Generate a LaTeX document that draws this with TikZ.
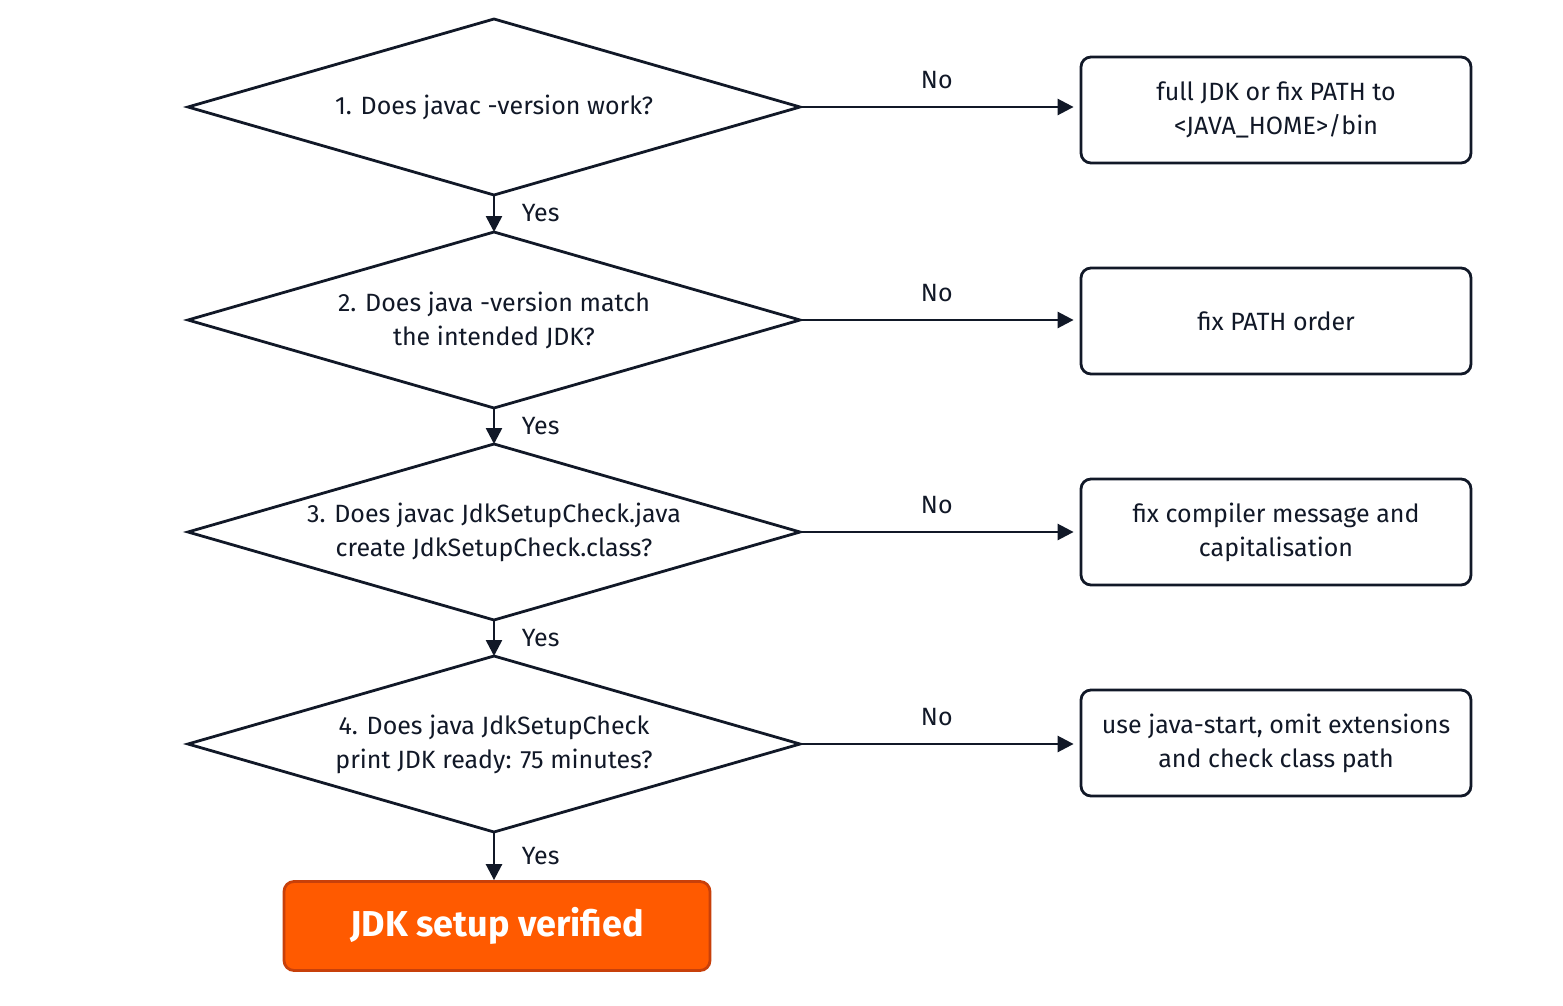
\documentclass[tikz,border=0pt]{standalone}
\usepackage{fontspec}
\setmainfont{Fira Sans}
\usetikzlibrary{arrows.meta}
\definecolor{ink}{HTML}{111827}
\definecolor{orng}{HTML}{FF5A00}
\definecolor{orngb}{HTML}{C8400A}
\tikzset{
 dtext/.style={align=center,font=\fontsize{12.5}{17}\selectfont,text=ink},
 dline/.style={draw=ink,line width=1.4pt,line join=miter},
 fixbox/.style={draw=ink,line width=1.4pt,rounded corners=5pt,minimum width=195pt,minimum height=53pt,align=center,font=\fontsize{12.5}{17}\selectfont,text=ink},
 arr/.style={draw=ink,line width=1.3pt,-{Triangle[length=8pt,width=8pt]}},
 lbl/.style={font=\fontsize{12.5}{15}\selectfont,text=ink}
}
\begin{document}
\begin{tikzpicture}[x=0.5pt,y=-0.5pt]
\useasboundingbox (0,0) rectangle (1563,1006);
\foreach \i/\cy in {1/107,2/320,3/532,4/744}{
 \coordinate (t\i) at (494,\cy-88);
 \coordinate (s\i) at (494,\cy+88);
 \coordinate (w\i) at (188,\cy);
 \coordinate (e\i) at (800,\cy);
 \draw[dline] (t\i) -- (e\i) -- (s\i) -- (w\i) -- cycle;
}
\node[dtext] (d1) at (494,107) {1. Does javac -version work?};
\node[dtext] (d2) at (494,320) {2. Does java -version match\\the intended JDK?};
\node[dtext] (d3) at (494,532) {3. Does javac JdkSetupCheck.java\\create JdkSetupCheck.class?};
\node[dtext] (d4) at (494,744) {4. Does java JdkSetupCheck\\print JDK ready: 75 minutes?};
\node[fixbox] (b1) at (1276,110) {full JDK or fix PATH to\\<JAVA\_HOME>/bin};
\node[fixbox] (b2) at (1276,321) {fix PATH order};
\node[fixbox] (b3) at (1276,532) {fix compiler message and\\capitalisation};
\node[fixbox] (b4) at (1276,743) {use java-start, omit extensions\\and check class path};
\node[draw=orngb,fill=orng,line width=1.4pt,rounded corners=5pt,minimum width=213pt,minimum height=44.5pt,text=white,font=\fontsize{18}{20}\selectfont\bfseries] (ok) at (497,926) {JDK setup verified};
\foreach \i in {1,2,3,4}{
 \draw[arr] (e\i) -- ([xshift=-3pt]e\i -| b\i.west) node[lbl,midway,above=5pt] {No};
}
\draw[arr] (s1) -- (t2) node[lbl,midway,right=10pt] {Yes};
\draw[arr] (s2) -- (t3) node[lbl,midway,right=10pt] {Yes};
\draw[arr] (s3) -- (t4) node[lbl,midway,right=10pt] {Yes};
\draw[arr] (s4) -- (s4|-ok.north) node[lbl,midway,right=10pt] {Yes};
\end{tikzpicture}
\end{document}
